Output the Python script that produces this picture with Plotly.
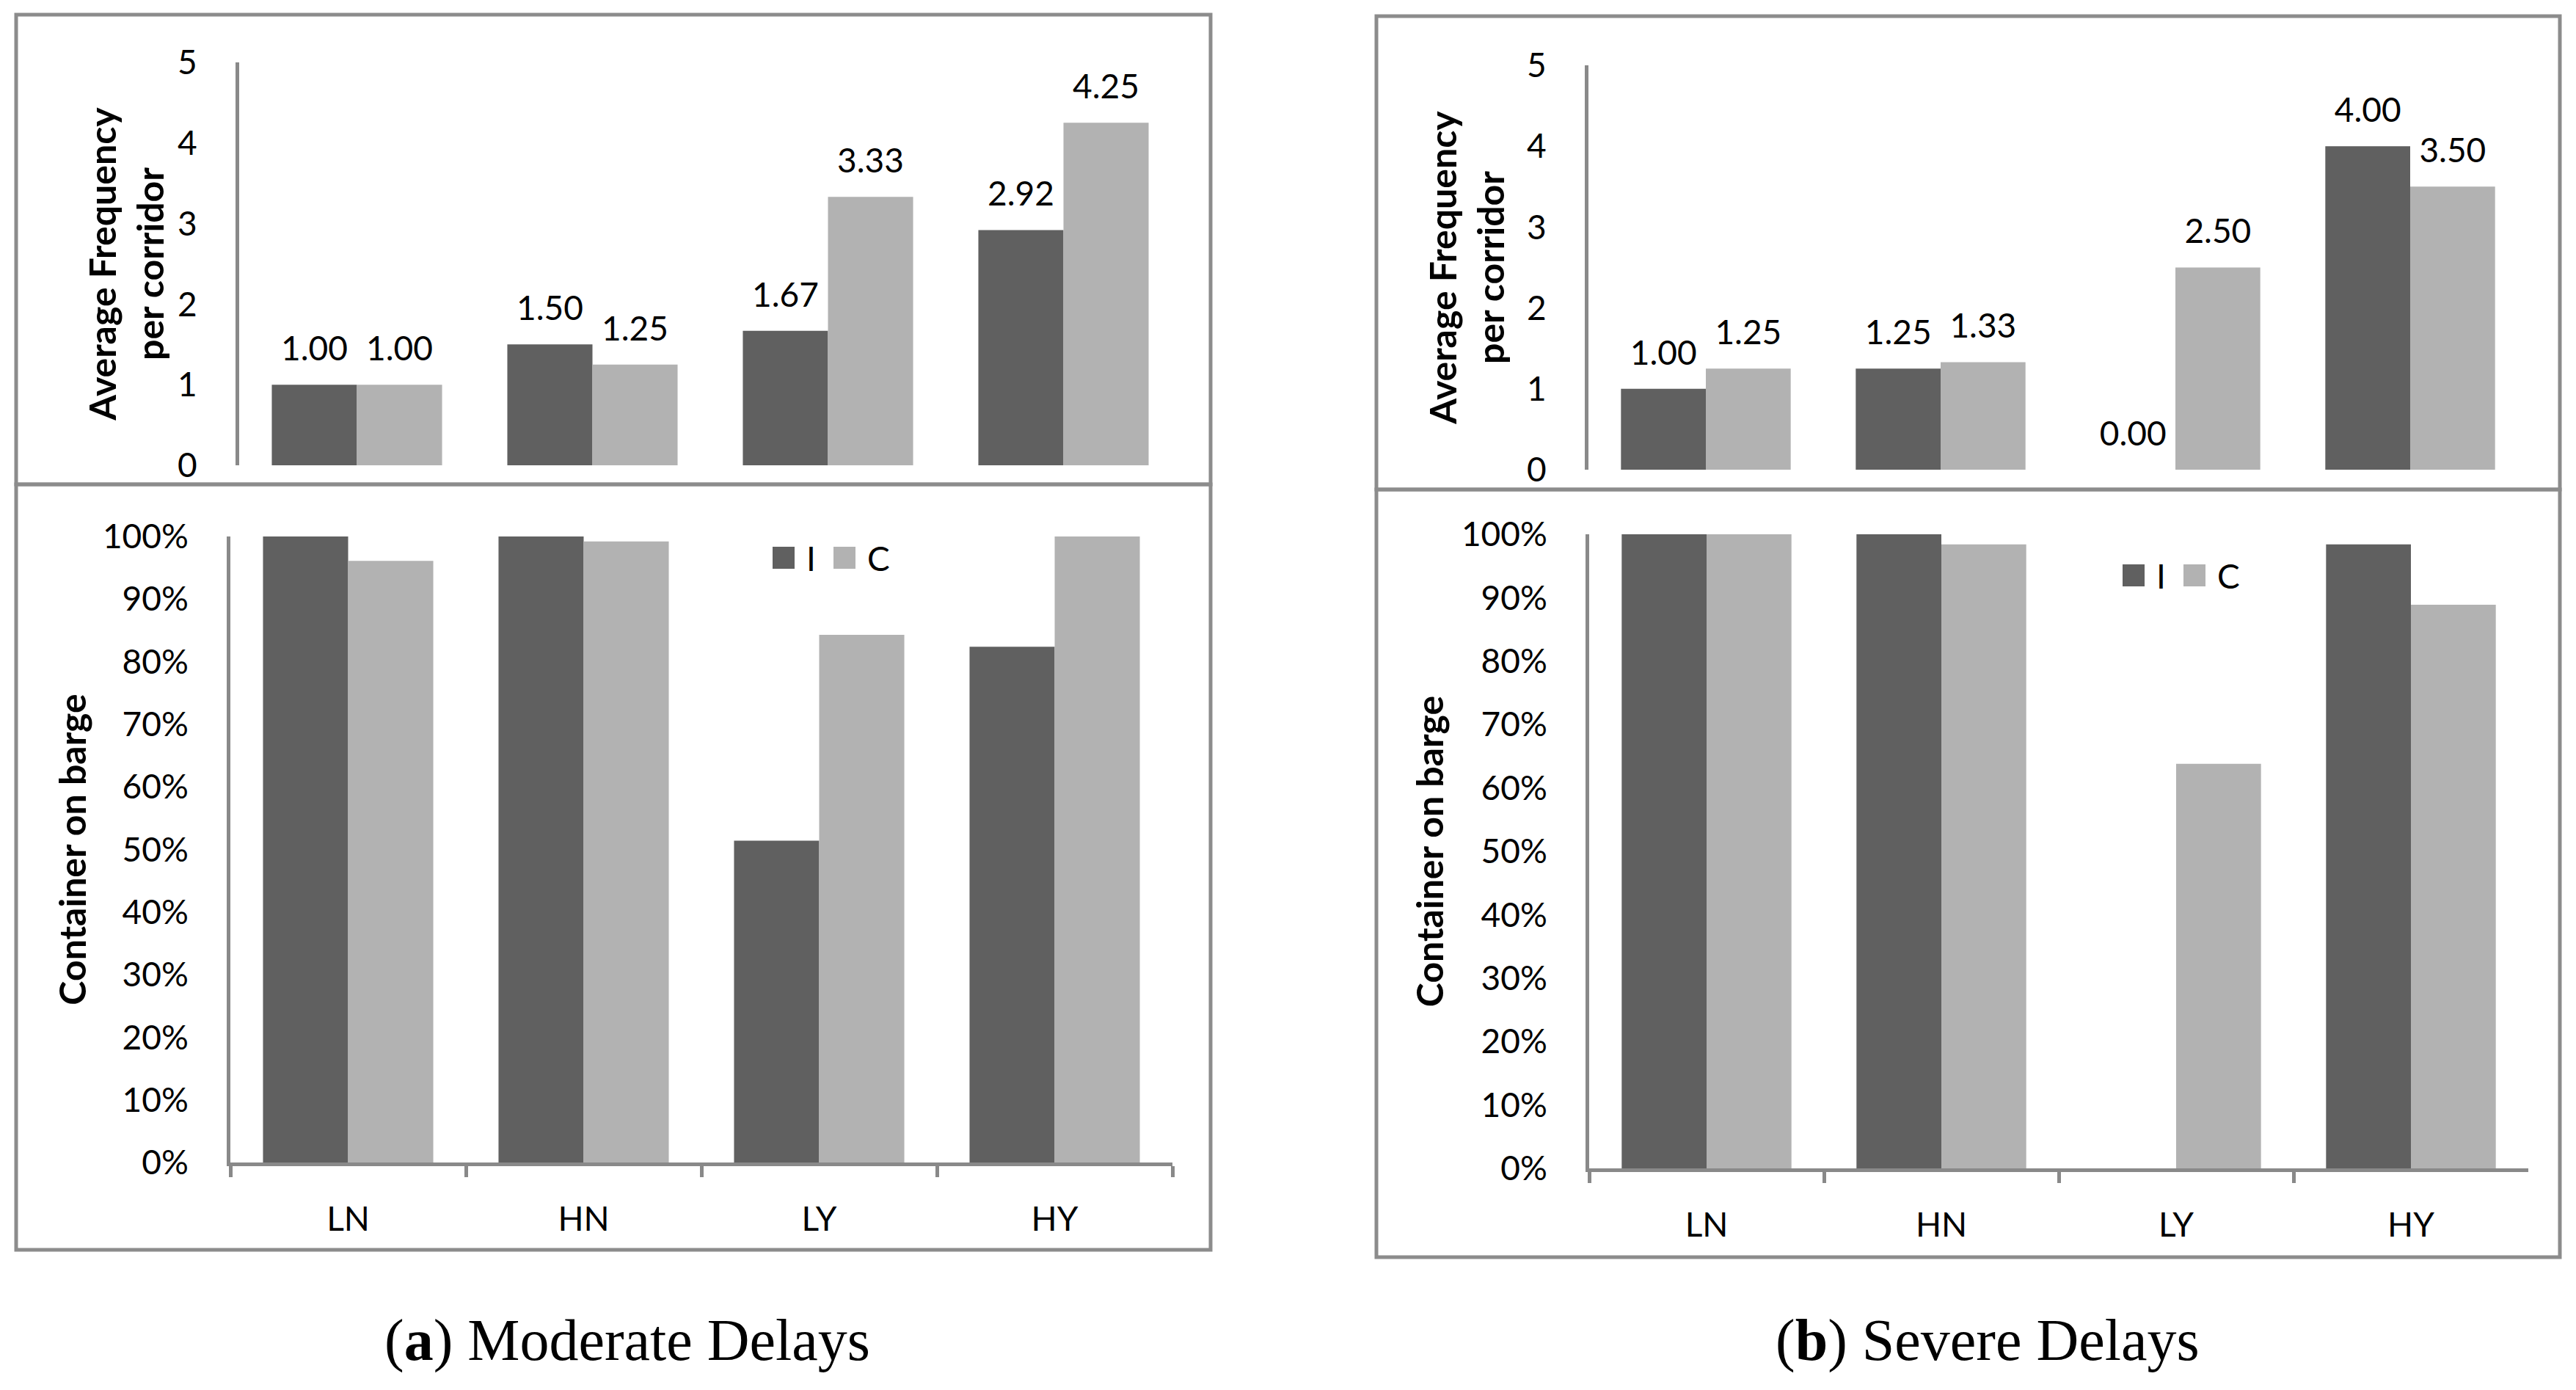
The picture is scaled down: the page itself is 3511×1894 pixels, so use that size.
import plotly.graph_objects as go

W, H = 3511, 1894

categories = ["LN", "HN", "LY", "HY"]
series = ["I", "C"]
colors = {"I": "#606060", "C": "#b2b2b2"}

# (a) Moderate delays
mod_freq_I = [1.00, 1.50, 1.67, 2.92]
mod_freq_C = [1.00, 1.25, 3.33, 4.25]
mod_share_I = [1.00, 1.00, 0.514, 0.824]
mod_share_C = [0.961, 0.992, 0.843, 1.00]

# (b) Severe delays
sev_freq_I = [1.00, 1.25, 0.00, 4.00]
sev_freq_C = [1.25, 1.33, 2.50, 3.50]
sev_share_I = [1.00, 1.00, None, 0.984]
sev_share_C = [1.00, 0.984, 0.638, 0.889]

freq_ticks = [0, 1, 2, 3, 4, 5]
share_ticks = [0, 0.1, 0.2, 0.3, 0.4, 0.5, 0.6, 0.7, 0.8, 0.9, 1.0]

FONT = "Lato"
FS = 46
TFS = 50
AXIS_GRAY = "#898989"
BOX_GRAY = "#8c8c8c"
BARGAP = 0.277


def px_x(x):
    return x / W


def px_y(y):
    return 1 - y / H


fig = go.Figure()

panels = [
    dict(fx="x", fy="y", sx="x2", sy="y2",
         fI=mod_freq_I, fC=mod_freq_C, sI=mod_share_I, sC=mod_share_C),
    dict(fx="x3", fy="y3", sx="x4", sy="y4",
         fI=sev_freq_I, fC=sev_freq_C, sI=sev_share_I, sC=sev_share_C),
]

for p in panels:
    for name, fv, sv in (("I", p["fI"], p["sI"]), ("C", p["fC"], p["sC"])):
        fig.add_trace(go.Bar(x=categories, y=fv, name=name, offsetgroup=name,
                             marker=dict(color=colors[name], line=dict(width=0)),
                             xaxis=p["fx"], yaxis=p["fy"], showlegend=False,
                             hoverinfo="skip"))
        fig.add_trace(go.Scatter(x=categories, y=fv, name=name, offsetgroup=name,
                                 mode="markers+text",
                                 marker=dict(size=33, color="rgba(0,0,0,0)"),
                                 text=[f"{v:.2f}" for v in fv],
                                 textposition="top center",
                                 textfont=dict(family=FONT, size=FS, color="#000"),
                                 cliponaxis=False,
                                 xaxis=p["fx"], yaxis=p["fy"], showlegend=False,
                                 hoverinfo="skip"))
        fig.add_trace(go.Bar(x=categories, y=sv, name=name, offsetgroup=name,
                             marker=dict(color=colors[name], line=dict(width=0)),
                             xaxis=p["sx"], yaxis=p["sy"], showlegend=False,
                             hoverinfo="skip"))

tickfont = dict(family=FONT, size=FS, color="#000")
titlefont = dict(family=FONT, size=TFS, color="#000", weight="bold")

freq_x = dict(type="category", showline=False, showticklabels=False, ticks="",
              showgrid=False, zeroline=False, automargin=False)
share_x = dict(type="category", showline=True, linecolor=AXIS_GRAY, linewidth=5,
               ticks="outside", tickson="boundaries", ticklen=15, tickwidth=5,
               tickcolor=AXIS_GRAY, tickfont=tickfont, ticklabelstandoff=33,
               showgrid=False, zeroline=False, automargin=False)


def freq_y(standoff):
    return dict(range=[0, 5], tickvals=freq_ticks, showline=True, linecolor=AXIS_GRAY,
                linewidth=5, ticks="", tickfont=tickfont, ticklabelstandoff=43,
                showgrid=False, zeroline=False, automargin=False,
                title=dict(text="Average Frequency<br>per corridor", font=titlefont,
                           standoff=standoff))


def share_y(standoff):
    return dict(range=[0, 1], tickvals=share_ticks, tickformat=".0%", showline=True,
                linecolor=AXIS_GRAY, linewidth=5, ticks="", tickfont=tickfont,
                ticklabelstandoff=43, showgrid=False, zeroline=False, automargin=False,
                title=dict(text="Container on barge", font=titlefont, standoff=standoff))


# plot areas (pixels in the 3511x1894 picture)
areas = {
    "TL": ([326, 1610], [85, 634]),
    "BL": ([314, 1598], [731, 1584]),
    "TR": ([2165, 3445], [89, 640]),
    "BR": ([2166, 3446], [728, 1592]),
}


def dom(a):
    (x0, x1), (y0, y1) = areas[a]
    return [px_x(x0), px_x(x1)], [px_y(y1), px_y(y0)]


layout = dict(width=W, height=H, margin=dict(l=0, r=0, t=0, b=0, pad=0),
              paper_bgcolor="white", plot_bgcolor="white",
              barmode="group", bargap=BARGAP, bargroupgap=0,
              scattermode="group", scattergap=BARGAP, showlegend=False)

for key, xa, ya, xs, ys in (("TL", "xaxis", "yaxis", freq_x, freq_y(4)),
                            ("BL", "xaxis2", "yaxis2", share_x, share_y(8)),
                            ("TR", "xaxis3", "yaxis3", freq_x, freq_y(16)),
                            ("BR", "xaxis4", "yaxis4", share_x, share_y(10))):
    xd, yd = dom(key)
    yid = ya.replace("axis", "")
    xid = xa.replace("axis", "")
    layout[xa] = dict(xs, domain=xd, anchor=yid)
    layout[ya] = dict(ys, domain=yd, anchor=xid)

fig.update_layout(**layout)

# chart borders
boxes = [(22, 20, 1650, 660), (22, 660, 1650, 1703),
         (1876, 22, 3489, 667), (1876, 667, 3489, 1713)]
for x0, y0, x1, y1 in boxes:
    fig.add_shape(type="rect", xref="paper", yref="paper",
                  x0=px_x(x0), x1=px_x(x1), y0=px_y(y1), y1=px_y(y0),
                  line=dict(color=BOX_GRAY, width=5), fillcolor="rgba(0,0,0,0)",
                  layer="below")

# legends (one per lower chart)
legend_pos = [(1053, 760), (2893, 784)]
for lx, ly in legend_pos:
    x = lx
    for name in series:
        fig.add_shape(type="rect", xref="paper", yref="paper",
                      x0=px_x(x), x1=px_x(x + 30), y0=px_y(ly + 15), y1=px_y(ly - 15),
                      line=dict(width=0), fillcolor=colors[name])
        fig.add_annotation(xref="paper", yref="paper", x=px_x(x + 44), y=px_y(ly),
                           text=name, showarrow=False, xanchor="left", yanchor="middle",
                           font=dict(family=FONT, size=FS, color="#000"))
        x += 83

captions = [("(<b>a</b>) Moderate Delays", 855), ("(<b>b</b>) Severe Delays", 2709)]
for txt, cx in captions:
    fig.add_annotation(xref="paper", yref="paper", x=px_x(cx), y=px_y(1826),
                       text=txt, showarrow=False, xanchor="center", yanchor="middle",
                       font=dict(family="Liberation Serif", size=80, color="#000"))

fig.write_html("out.html", config={"displayModeBar": False},
               post_script="document.body.style.margin='0';document.body.style.overflow='hidden';")
